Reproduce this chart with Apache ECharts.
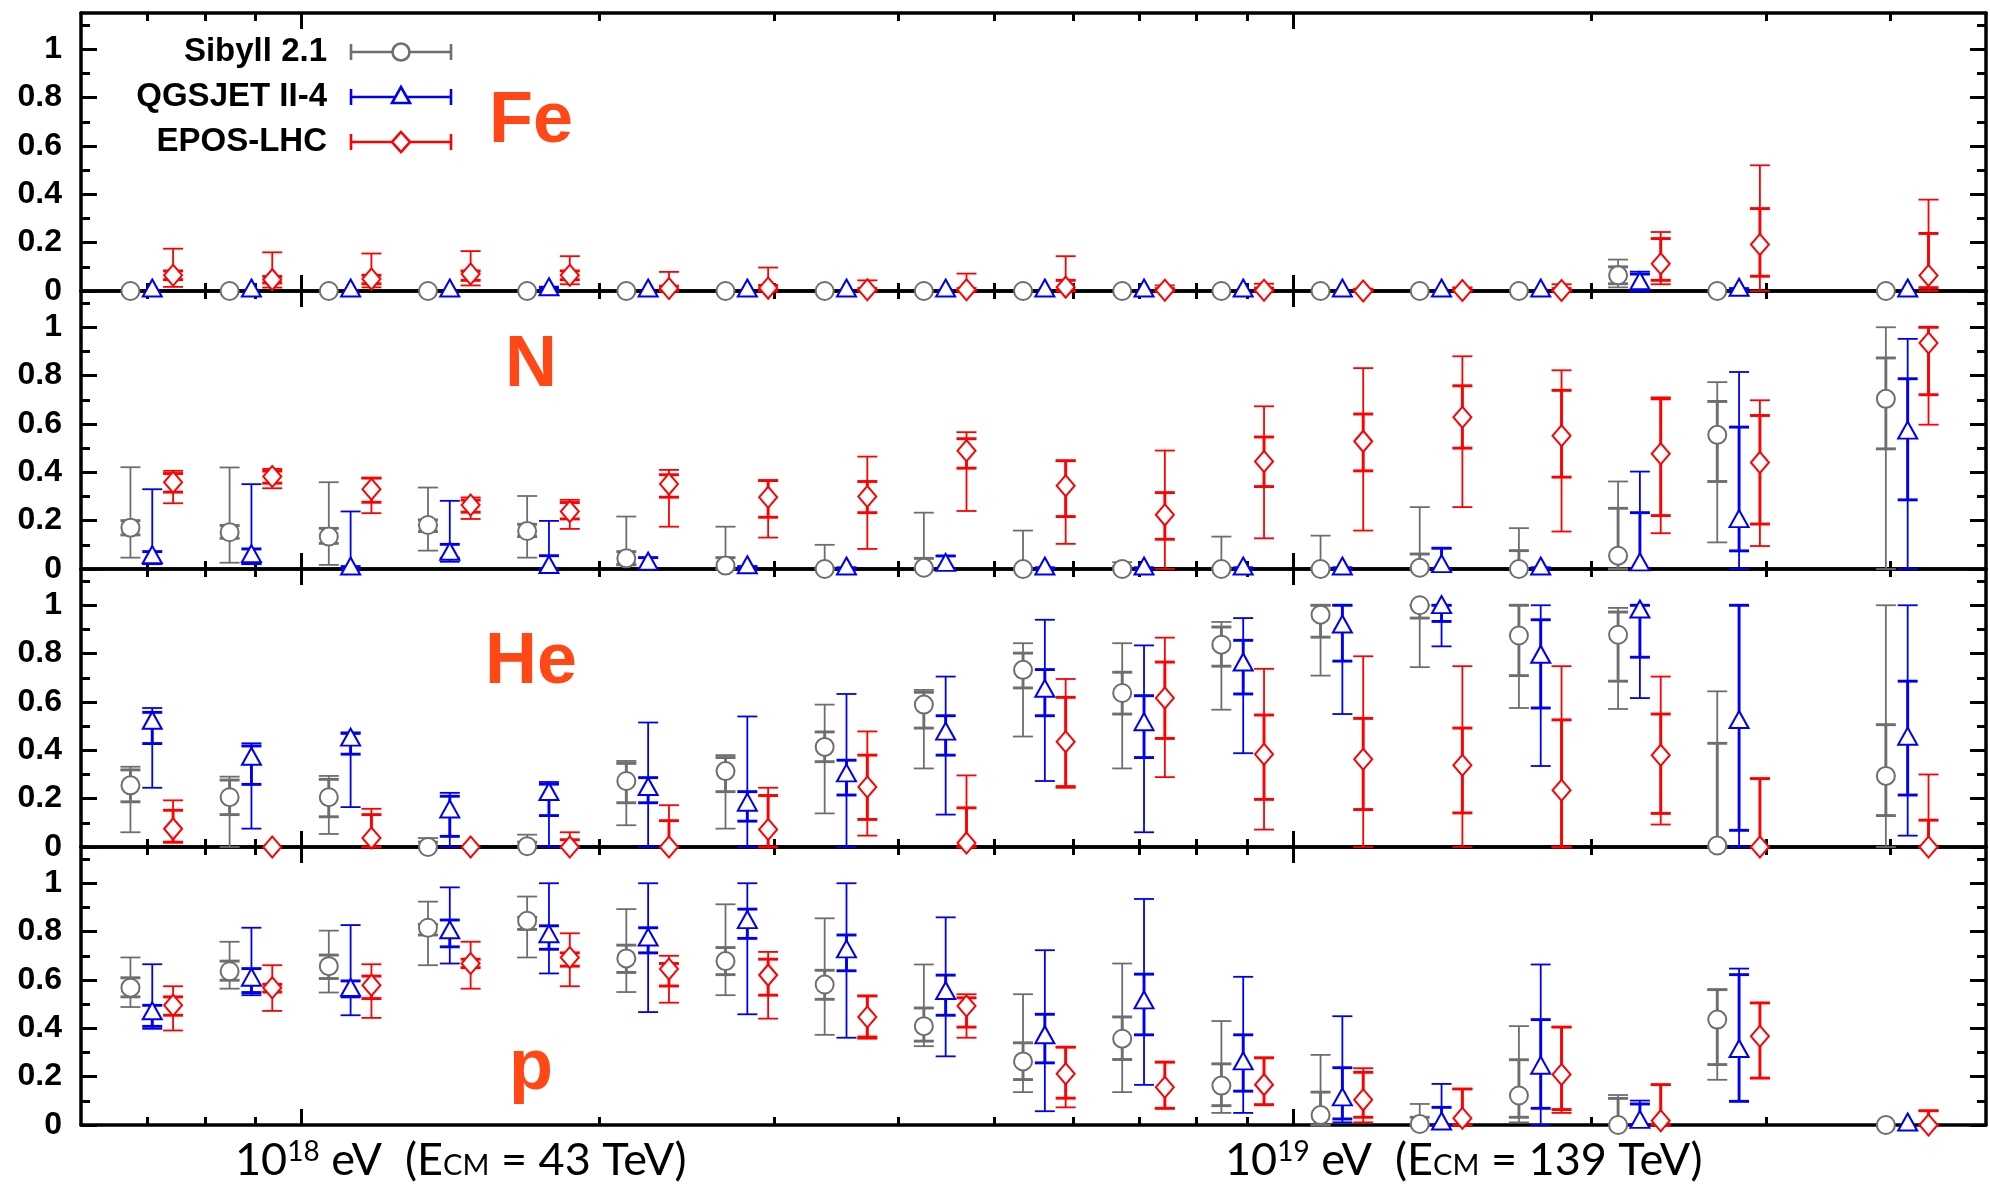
<!DOCTYPE html>
<html>
<head>
<meta charset="utf-8">
<script src="https://cdn.jsdelivr.net/npm/echarts@6/dist/echarts.min.js"></script>
<style>
  html, body { margin: 0; padding: 0; background: #fff; }
  #chart { width: 1990px; height: 1186px; }
</style>
</head>
<body>
<div id="chart"></div>
<script>
// Energy bins: log10(E / eV) of each bin centre
const binLogE = [17.85, 17.95, 18.05, 18.15, 18.25, 18.35, 18.45, 18.55, 18.65,
                 18.75, 18.85, 18.95, 19.05, 19.15, 19.25, 19.35, 19.45, 19.62];

// Fractions per bin: [value, statLow, statHigh, sysLow, sysHigh]
const feSibyll = [
  [0,0,0,0,0],[0,0,0,0,0],[0,0,0,0,0],[0,0,0,0,0],[0,0,0,0,0],[0,0,0,0,0],
  [0,0,0,0,0],[0,0,0,0,0],[0,0,0,0,0],[0,0,0,0,0],[0,0,0,0,0],[0,0,0,0,0],
  [0,0,0,0,0],[0,0,0,0,0],[0,0,0,0,0],[0.065,0.03,0.10,0.015,0.13],[0,0,0,0,0],[0,0,0,0,0]
];
const feQgsjet = [
  [0,0,0,0,0],[0,0,0,0,0],[0,0,0,0,0],[0,0,0,0,0],[0.005,0,0.012,0,0.018],[0,0,0,0,0],
  [0,0,0,0,0],[0,0,0,0,0],[0,0,0,0,0],[0,0,0,0,0],[0,0,0,0,0],[0,0,0,0,0],
  [0,0,0,0,0],[0,0,0,0,0],[0,0,0,0,0],[0.03,0.005,0.07,0,0.08],[0.003,0,0.01,0,0.01],[0,0,0,0,0]
];
const feEpos = [
  [0.065,0.047,0.083,0.017,0.175],[0.047,0.033,0.06,0.014,0.16],[0.05,0.03,0.065,0.015,0.155],
  [0.07,0.044,0.083,0.023,0.165],[0.065,0.047,0.083,0.028,0.144],[0.01,0,0.02,0,0.079],
  [0.012,0,0.023,0,0.097],[0.005,0,0.01,0,0.044],[0.005,0,0.01,0,0.072],
  [0.016,0,0.044,0,0.144],[0.003,0,0.01,0,0.023],[0.003,0,0.012,0,0.03],
  [0,0,0.005,0,0.01],[0.002,0,0.01,0,0.015],[0.002,0,0.01,0,0.028],
  [0.113,0.044,0.217,0.028,0.244],[0.192,0.061,0.341,0,0.52],[0.064,0.014,0.238,0,0.378]
];

const nSibyll = [
  [0.171,0.141,0.2,0.047,0.421],[0.152,0.127,0.18,0.026,0.42],[0.134,0.106,0.168,0.017,0.359],
  [0.182,0.155,0.203,0.076,0.337],[0.157,0.134,0.185,0.047,0.302],[0.044,0.02,0.072,0.015,0.217],
  [0.014,0,0.047,0,0.175],[0,0,0.005,0,0.1],[0.005,0,0.044,0,0.233],
  [0,0,0.005,0,0.159],[0,0,0.01,0,0.028],[0,0,0.005,0,0.134],
  [0,0,0.005,0,0.138],[0.005,0,0.062,0,0.256],[0,0,0.076,0,0.169],
  [0.055,0,0.251,0,0.362],[0.555,0.362,0.693,0.11,0.773],[0.704,0.497,0.873,0,1.0]
];
const nQgsjet = [
  [0.047,0.023,0.072,0.02,0.33],[0.051,0.023,0.083,0.02,0.351],[0,0,0.01,0,0.238],
  [0.061,0.044,0.102,0.03,0.282],[0.006,0,0.055,0,0.199],[0.02,0,0.047,0,0.047],
  [0.005,0,0.01,0,0.01],[0,0,0.005,0,0.005],[0.015,0,0.054,0,0.054],
  [0,0,0.005,0,0.005],[0,0,0.005,0,0.005],[0,0,0.005,0,0.005],
  [0,0,0.005,0,0.005],[0.01,0,0.086,0,0.086],[0,0,0.005,0,0.005],
  [0.017,0,0.233,0,0.403],[0.196,0.075,0.587,0,0.815],[0.562,0.286,0.787,0,0.952]
];
const nEpos = [
  [0.359,0.318,0.395,0.272,0.406],[0.383,0.355,0.405,0.334,0.414],[0.33,0.276,0.376,0.231,0.376],
  [0.265,0.235,0.285,0.207,0.296],[0.238,0.207,0.275,0.166,0.286],[0.352,0.297,0.39,0.175,0.41],
  [0.297,0.214,0.366,0.13,0.366],[0.3,0.233,0.362,0.083,0.465],[0.489,0.417,0.539,0.24,0.566],
  [0.344,0.217,0.448,0.104,0.448],[0.224,0.123,0.316,0,0.49],[0.445,0.341,0.546,0.127,0.673],
  [0.528,0.406,0.641,0.159,0.831],[0.628,0.5,0.758,0.256,0.88],[0.551,0.38,0.739,0.155,0.822],
  [0.477,0.221,0.704,0.148,0.71],[0.441,0.186,0.635,0.095,0.698],[0.935,0.721,1.0,0.597,1.0]
];

const heSibyll = [
  [0.255,0.187,0.319,0.061,0.332],[0.206,0.134,0.277,0,0.291],[0.206,0.125,0.28,0.054,0.294],
  [0,0,0.02,0,0.037],[0.003,0,0.02,0,0.051],[0.273,0.183,0.346,0.09,0.356],
  [0.314,0.229,0.37,0.076,0.38],[0.414,0.353,0.476,0.139,0.589],[0.589,0.492,0.64,0.325,0.65],
  [0.733,0.658,0.802,0.457,0.843],[0.637,0.55,0.723,0.325,0.843],[0.837,0.748,0.91,0.568,0.931],
  [0.961,0.868,1.0,0.709,1.0],[1.0,0.947,1.0,0.744,1.0],[0.875,0.709,1.0,0.575,1.0],
  [0.878,0.686,0.972,0.571,0.989],[0.006,0,0.429,0,0.644],[0.294,0.13,0.506,0,1.0]
];
const heQgsjet = [
  [0.512,0.428,0.557,0.245,0.575],[0.363,0.259,0.418,0.076,0.429],[0.442,0.384,0.47,0.165,0.474],
  [0.145,0.044,0.21,0,0.224],[0.217,0.13,0.26,0,0.269],[0.238,0.183,0.287,0,0.515],
  [0.173,0.107,0.229,0,0.54],[0.294,0.215,0.359,0,0.633],[0.467,0.38,0.543,0.134,0.705],
  [0.644,0.543,0.734,0.273,0.94],[0.506,0.37,0.626,0.061,0.834],[0.753,0.633,0.855,0.388,0.947],
  [0.91,0.769,1.0,0.55,1.0],[0.99,0.933,1.0,0.83,1.0],[0.785,0.575,0.94,0.335,1.0],
  [0.972,0.785,1.0,0.616,1.0],[0.515,0.069,1.0,0,1.0],[0.446,0.215,0.686,0.047,1.0]
];
const heEpos = [
  [0.075,0.02,0.152,0.019,0.193],[0,0,0,0,0],[0.037,0,0.134,0,0.158],
  [0,0,0,0,0],[0,0,0.03,0,0.061],[0,0,0.109,0,0.173],
  [0.072,0,0.213,0,0.245],[0.248,0.114,0.38,0.047,0.478],[0.017,0,0.162,0,0.296],
  [0.435,0.25,0.619,0.245,0.695],[0.616,0.449,0.765,0.289,0.866],[0.384,0.197,0.546,0.072,0.737],
  [0.363,0.155,0.532,0,0.789],[0.338,0.141,0.492,0,0.748],[0.235,0,0.526,0,0.748],
  [0.38,0.139,0.55,0.093,0.705],[0,0,0.283,0,0.283],[0,0,0.111,0,0.3]
];

const pSibyll = [
  [0.568,0.53,0.609,0.488,0.693],[0.636,0.599,0.678,0.564,0.758],[0.657,0.606,0.703,0.548,0.804],
  [0.816,0.786,0.83,0.661,0.924],[0.845,0.809,0.859,0.693,0.945],[0.689,0.631,0.744,0.55,0.893],
  [0.678,0.622,0.734,0.537,0.913],[0.581,0.52,0.64,0.373,0.855],[0.409,0.347,0.484,0.326,0.664],
  [0.263,0.188,0.34,0.136,0.541],[0.357,0.271,0.447,0.136,0.668],[0.163,0.08,0.253,0.05,0.43],
  [0.041,0,0.136,0,0.29],[0.004,0,0.032,0,0.087],[0.122,0.032,0.27,0.011,0.409],
  [0,0,0.11,0,0.124],[0.436,0.25,0.56,0.187,0.56],[0,0,0,0,0]
];
const pQgsjet = [
  [0.46,0.408,0.495,0.398,0.665],[0.599,0.548,0.647,0.537,0.816],[0.557,0.53,0.596,0.454,0.827],
  [0.795,0.737,0.848,0.668,0.983],[0.779,0.727,0.824,0.627,1.0],[0.765,0.712,0.816,0.467,1.0],
  [0.837,0.772,0.893,0.458,1.0],[0.716,0.638,0.786,0.361,1.0],[0.544,0.454,0.62,0.284,0.859],
  [0.361,0.257,0.458,0.057,0.723],[0.505,0.373,0.624,0.166,0.935],[0.253,0.14,0.373,0.05,0.613],
  [0.104,0.025,0.237,0.011,0.45],[0.004,0,0.073,0,0.17],[0.235,0.069,0.436,0,0.664],
  [0.011,0,0.087,0,0.101],[0.304,0.098,0.622,0.098,0.647],[0,0,0,0,0]
];
const pEpos = [
  [0.495,0.454,0.53,0.391,0.574],[0.568,0.55,0.582,0.472,0.661],[0.578,0.523,0.616,0.443,0.665],
  [0.668,0.651,0.686,0.564,0.758],[0.693,0.657,0.712,0.574,0.793],[0.645,0.575,0.668,0.506,0.7],
  [0.62,0.537,0.686,0.44,0.716],[0.447,0.364,0.534,0.357,0.534],[0.492,0.405,0.526,0.361,0.541],
  [0.212,0.111,0.322,0.073,0.322],[0.156,0.069,0.26,0.069,0.26],[0.167,0.084,0.278,0.084,0.278],
  [0.104,0.032,0.218,0.011,0.235],[0.028,0,0.149,0,0.149],[0.209,0.064,0.405,0.05,0.405],
  [0.018,0,0.167,0,0.167],[0.367,0.194,0.505,0.194,0.505],[0,0,0.059,0,0.059]
];

// Axis ticks
const yMajorTicks = [0, 0.2, 0.4, 0.6, 0.8, 1];
const yMinorTicks = [0.1, 0.3, 0.5, 0.7, 0.9, 1.1];
const xMajorTicks = [1e18, 1e19].map(Math.log10);
const xMinorTicks = [7e17, 8e17, 9e17, 2e18, 3e18, 4e18, 5e18, 6e18, 7e18, 8e18, 9e18,
                     2e19, 3e19, 4e19].map(Math.log10);
const xRange = [6e17, 5e19].map(Math.log10);
const yRange = [0, 1.15];

const modelNames = ['Sibyll 2.1', 'QGSJET II-4', 'EPOS-LHC'];
const panelNames = ['Fe', 'N', 'He', 'p'];
const panelData = [
  [feSibyll, feQgsjet, feEpos],
  [nSibyll, nQgsjet, nEpos],
  [heSibyll, heQgsjet, heEpos],
  [pSibyll, pQgsjet, pEpos]
];

// Styling
const modelStyle = [
  { color: '#6e6e6e', symbol: 'emptyCircle', size: [18, 18], shift: -0.022, lift: 0 },
  { color: '#0000f0', symbol: 'emptyTriangle', size: [19, 17], shift: 0, lift: -3 },
  { color: '#ff0000', symbol: 'emptyDiamond', size: [18, 21], shift: 0.021, lift: 0 }
];
const LABEL_COLOR = '#ff4816';
const GRID_LEFT = 81, GRID_RIGHT = 4, GRID_TOP = 13, PANEL_H = 278;
const labelCentreY = [122, 366, 663, 1069];
const BORDER = 3.5;

const chart = echarts.init(document.getElementById('chart'));

const grids = [], xAxes = [], yAxes = [], series = [];

function xAxisDef(g, pos, ticks, len, line) {
  return {
    type: 'value', gridIndex: g, position: pos, min: xRange[0], max: xRange[1],
    axisLine: { show: line, onZero: false, lineStyle: { color: '#000', width: BORDER } },
    axisTick: { show: true, inside: true, length: len, customValues: ticks,
                lineStyle: { color: '#000', width: 3 } },
    axisLabel: { show: false }, splitLine: { show: false }
  };
}
function yAxisDef(g, pos, ticks, len, line, labels) {
  return {
    type: 'value', gridIndex: g, position: pos, min: yRange[0], max: yRange[1],
    axisLine: { show: line, onZero: false, lineStyle: { color: '#000', width: BORDER } },
    axisTick: { show: true, inside: true, length: len, customValues: ticks,
                lineStyle: { color: '#000', width: 3 } },
    axisLabel: labels ? {
      show: true, customValues: yMajorTicks, margin: 19,
      fontSize: 32, fontWeight: 'bold', fontFamily: '"Liberation Sans", Arial, sans-serif',
      color: '#000', formatter: v => String(Math.round(v * 10) / 10)
    } : { show: false },
    splitLine: { show: false }
  };
}

function errorBars(color) {
  return function (params, api) {
    const x = api.value(0);
    const sLo = api.value(2), sHi = api.value(3), tLo = api.value(4), tHi = api.value(5);
    if (tHi - tLo <= 0 && sHi - sLo <= 0) return null;
    const px = api.coord([x, 0])[0];
    const py = t => api.coord([x, t])[1];
    const hw = 10;
    const seg = (x1, y1, x2, y2, w) => ({
      type: 'line', shape: { x1, y1, x2, y2 },
      style: { stroke: color, lineWidth: w, lineCap: 'butt' }
    });
    const kids = [];
    if (tHi - tLo > 0) {
      kids.push(seg(px, py(tLo), px, py(tHi), 1.8));
      kids.push(seg(px - hw, py(tLo), px + hw, py(tLo), 1.8));
      kids.push(seg(px - hw, py(tHi), px + hw, py(tHi), 1.8));
    }
    if (sHi - sLo > 0) {
      kids.push(seg(px, py(sLo), px, py(sHi), 2.9));
      kids.push(seg(px - hw, py(sLo), px + hw, py(sLo), 2.9));
      kids.push(seg(px - hw, py(sHi), px + hw, py(sHi), 2.9));
    }
    return { type: 'group', children: kids };
  };
}

for (let g = 0; g < 4; g++) {
  grids.push({ left: GRID_LEFT, right: GRID_RIGHT, top: GRID_TOP + g * PANEL_H, height: PANEL_H });
  const xb = xAxes.length;
  xAxes.push(xAxisDef(g, 'bottom', xMinorTicks, 8, true));
  xAxes.push(xAxisDef(g, 'bottom', xMajorTicks, 16, false));
  xAxes.push(xAxisDef(g, 'top', xMinorTicks, 8, true));
  xAxes.push(xAxisDef(g, 'top', xMajorTicks, 16, false));
  const yb = yAxes.length;
  yAxes.push(yAxisDef(g, 'left', yMajorTicks, 16, true, true));
  yAxes.push(yAxisDef(g, 'left', yMinorTicks, 9, false, false));
  yAxes.push(yAxisDef(g, 'right', yMajorTicks, 16, true, false));
  yAxes.push(yAxisDef(g, 'right', yMinorTicks, 9, false, false));

  panelData[g].forEach((rows, m) => {
    const st = modelStyle[m];
    const pts = rows.map((r, i) => [binLogE[i] + st.shift, r[0], r[1], r[2], r[3], r[4]]);
    series.push({
      type: 'custom', name: modelNames[m], xAxisIndex: xb, yAxisIndex: yb,
      renderItem: errorBars(st.color), data: pts, encode: { x: 0, y: 1 },
      clip: false, z: 3, silent: true
    });
    series.push({
      type: 'scatter', name: modelNames[m], xAxisIndex: xb, yAxisIndex: yb,
      data: pts.map(p => [p[0], p[1]]), symbol: st.symbol, symbolSize: st.size,
      symbolOffset: [0, st.lift],
      itemStyle: { color: st.color, borderColor: st.color, borderWidth: 2.6, opacity: 1 },
      clip: false, z: 4, silent: true
    });
  });
}

// Legend: name, error-bar sample and marker
const graphics = [];
modelNames.forEach((name, m) => {
  const st = modelStyle[m];
  const y = 52 + 45 * m, x1 = 351, x2 = 451, cx = 401;
  graphics.push({ type: 'text', style: { text: name, x: 327, y: y, align: 'right', verticalAlign: 'middle',
    font: 'bold 33px "Liberation Sans", Arial, sans-serif', fill: '#000' } });
  const line = (a, b, c, d) => ({ type: 'line', shape: { x1: a, y1: b, x2: c, y2: d },
    style: { stroke: st.color, lineWidth: 2.6 } });
  graphics.push(line(x1, y, x2, y), line(x1, y - 8, x1, y + 8), line(x2, y - 8, x2, y + 8));
  const mk = { fill: '#fff', stroke: st.color, lineWidth: 2.6 };
  if (m === 0) graphics.push({ type: 'circle', shape: { cx, cy: y, r: 8.5 }, style: mk });
  if (m === 1) graphics.push({ type: 'polygon', shape: { points: [[cx, y - 10], [cx - 9, y + 6], [cx + 9, y + 6]] }, style: mk });
  if (m === 2) graphics.push({ type: 'polygon', shape: { points: [[cx, y - 10], [cx + 9, y], [cx, y + 10], [cx - 9, y]] }, style: mk });
});

// Panel labels
panelNames.forEach((name, g) => {
  graphics.push({ type: 'text', style: { text: name, x: 531, y: labelCentreY[g], align: 'center',
    verticalAlign: 'middle', font: 'bold 72px "Liberation Sans", Arial, sans-serif', fill: LABEL_COLOR } });
});

// Energy annotations under the axis
const energyNotes = [
  { x: 235, exp: '18', ecm: '43' },
  { x: 1225, exp: '19', ecm: '139' }
];
energyNotes.forEach(n => {
  graphics.push({ type: 'text', style: {
    x: n.x, y: 1160, align: 'left', verticalAlign: 'middle',
    text: '{b|10}{s|' + n.exp + '}{b| eV  (E}{c|CM}{b| = ' + n.ecm + ' TeV)}',
    rich: {
      b: { fontSize: 45, fontFamily: 'Lato, "Open Sans", sans-serif', fill: '#000', verticalAlign: 'bottom' },
      s: { fontSize: 28, fontFamily: 'Lato, "Open Sans", sans-serif', fill: '#000', verticalAlign: 'top' },
      c: { fontSize: 29, fontFamily: 'Lato, "Open Sans", sans-serif', fill: '#000', verticalAlign: 'bottom', padding: [0, 0, 2, 0] }
    }
  } });
});

chart.setOption({
  animation: false,
  backgroundColor: '#fff',
  grid: grids,
  xAxis: xAxes,
  yAxis: yAxes,
  series: series,
  graphic: graphics
});
</script>
</body>
</html>
